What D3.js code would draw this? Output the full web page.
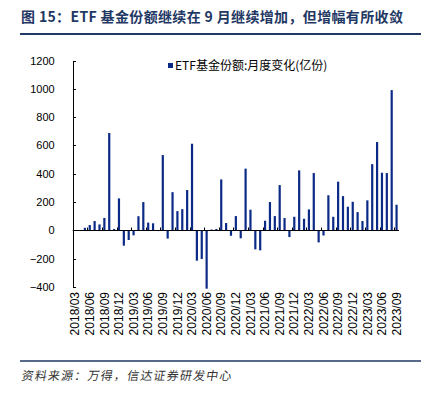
<!DOCTYPE html>
<meta charset="utf-8">
<style>
  body { margin: 0; background: #fff; }
  .axis text {
    font-family: "Liberation Sans", Arial, sans-serif;
    font-size: 11px;
    fill: #000;
  }
  .axis path, .axis line {
    fill: none;
    stroke: #000;
    shape-rendering: crispEdges;
  }
</style>

<div class="chart"></div>

<script src="https://cdn.jsdelivr.net/npm/d3@7/dist/d3.min.js"></script>

<script>
    var title = "图 15：ETF 基金份额继续在 9 月继续增加，但增幅有所收敛";
    var source = "资料来源：万得，信达证券研发中心";
    var seriesName = "ETF基金份额:月度变化(亿份)";

    // monthly categories 2018/03 .. 2023/09
    var months = d3.timeMonth.range(new Date(2018, 2, 1), new Date(2023, 9, 1))
        .map(d3.timeFormat("%Y/%m"));

    var shareChange = [
        0, 0, 18, 38, 66, 42, 88, 688, 10, 226,
        -108, -68, -35, 100, 200, 55, 50, -5, 532, -58,
        270, 136, 150, 285, 612, -214, -202, -412, 6, 10,
        360, 52, -38, 101, -56, 436, 146, -134, -141, 68,
        200, 101, 320, 87, -47, 96, 424, 82, 148, 405,
        -85, -36, 248, 96, 344, 242, 167, 202, 129, 66,
        212, 468, 624, 407, 405, 991, 181
    ];

    var yTicks = [-400, -200, 0, 200, 400, 600, 800, 1000, 1200];

    var data = months.map((m, i) => ({ month: m, value: shareChange[i] }));

    var width = 433, height = 395;
    var plot = {left: 72.7, right: 399, top: 60.5, bottom: 287};
    var navy = "#1f3864";

    var svg = d3.select(".chart")
        .append("svg")
        .attr("width", width)
        .attr("height", height);

    // title + rules
    svg.append("text")
        .attr("x", 21)
        .attr("y", 22)
        .attr("font-family", "Noto Sans CJK SC")
        .attr("font-weight", "bold")
        .attr("font-size", 14)
        .attr("letter-spacing", 0.35)
        .attr("fill", navy)
        .text(title);

    svg.append("line")
        .attr("x1", 20).attr("x2", 421)
        .attr("y1", 34).attr("y2", 34)
        .attr("stroke", navy)
        .attr("stroke-width", 2);

    svg.append("line")
        .attr("x1", 20).attr("x2", 421)
        .attr("y1", 361).attr("y2", 361)
        .attr("stroke", navy)
        .attr("stroke-width", 1.5);

    svg.append("text")
        .attr("x", 21)
        .attr("y", 380)
        .attr("font-family", "Noto Sans CJK SC")
        .attr("font-size", 12)
        .attr("letter-spacing", 1.2)
        .attr("fill", "#333")
        .attr("transform", "skewX(-10) translate(67,0)")
        .text(source);

    var xScale = d3.scaleBand()
        .domain(months)
        .range([plot.left, plot.right])
        .paddingInner(0.55)
        .paddingOuter(0.275);

    var yScale = d3.scaleLinear()
        .domain([-400, 1200])
        .range([plot.bottom, plot.top]);

    var yAxis = d3.axisLeft(yScale)
        .tickValues(yTicks)
        .tickFormat(d3.format("d"))
        .tickSizeInner(-3)
        .tickSizeOuter(-3)
        .tickPadding(18);

    svg.append("g")
        .attr("class", "y axis")
        .attr("transform", "translate(" + plot.left + ",0)")
        .call(yAxis);

    svg.selectAll(".bar")
        .data(data)
        .enter().append("rect")
        .attr("class", "bar")
        .attr("x", (d) => xScale(d.month))
        .attr("width", xScale.bandwidth())
        .attr("y", (d) => yScale(Math.max(0, d.value)))
        .attr("height", (d) => Math.abs(yScale(d.value) - yScale(0)))
        .attr("fill", "#0b2a86");

    // x axis along zero, ticks between categories every 3 months
    var y0 = Math.round(yScale(0)) + 0.5;
    var gap = (xScale.step() - xScale.bandwidth()) / 2;

    svg.append("line")
        .attr("x1", plot.left).attr("x2", plot.right)
        .attr("y1", y0).attr("y2", y0)
        .attr("stroke", "#000");

    svg.selectAll(".xtick")
        .data(months.filter((m, i) => i % 3 == 0 && i > 0))
        .enter().append("line")
        .attr("class", "xtick")
        .attr("x1", (d) => Math.round(xScale(d) - gap) + 0.5)
        .attr("x2", (d) => Math.round(xScale(d) - gap) + 0.5)
        .attr("y1", y0).attr("y2", y0 - 3)
        .attr("stroke", "#000");

    svg.selectAll(".xlabel")
        .data(months.filter((m, i) => i % 3 == 0))
        .enter().append("text")
        .attr("class", "xlabel")
        .attr("transform", (d) => "translate(" + (xScale(d) + xScale.bandwidth() / 2) + "," + (plot.bottom + 5) + ") rotate(-90)")
        .attr("dy", "0.35em")
        .attr("text-anchor", "end")
        .attr("font-family", "Liberation Sans, Arial, sans-serif")
        .attr("font-size", 12)
        .text((d) => d);

    // legend
    var legend = svg.append("g")
        .attr("transform", "translate(168,63)");

    legend.append("rect")
        .attr("width", 5).attr("height", 5)
        .attr("fill", "#0b2a86");

    legend.append("text")
        .attr("x", 7)
        .attr("y", 6.5)
        .attr("font-family", "Noto Sans CJK SC")
        .attr("font-size", 12)
        .attr("fill", "#000")
        .text(seriesName);
</script>
